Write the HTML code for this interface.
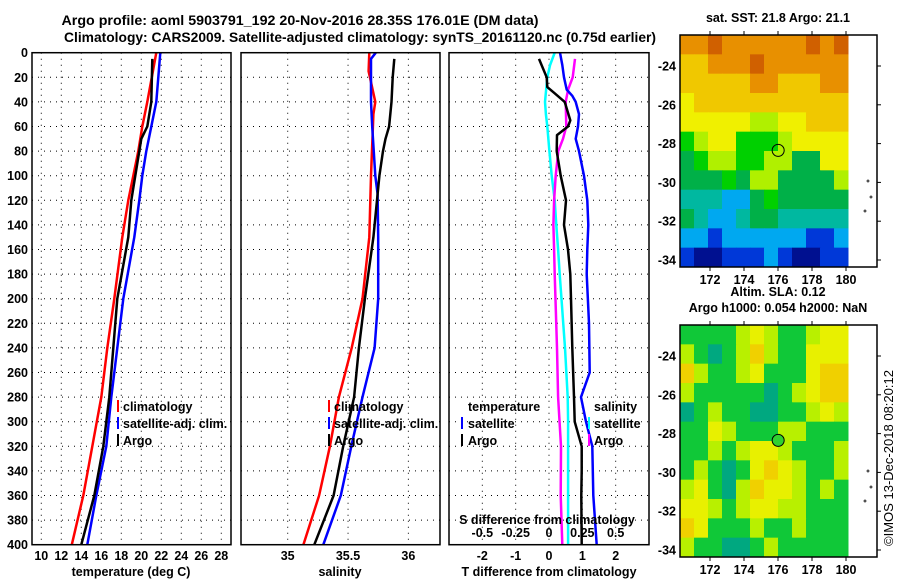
<!DOCTYPE html>
<html><head><meta charset="utf-8"><style>
html,body{margin:0;padding:0;background:#fff}
svg{display:block;font-family:"Liberation Sans",sans-serif;font-weight:bold}
</style></head><body>
<svg id="fig" width="900" height="580" viewBox="0 0 900 580" xmlns="http://www.w3.org/2000/svg">
<text x="300" y="25" font-size="14" text-anchor="middle" textLength="477" lengthAdjust="spacingAndGlyphs">Argo profile: aoml 5903791_192 20-Nov-2016 28.35S 176.01E (DM data)</text>
<text x="360" y="42" font-size="14" text-anchor="middle" textLength="592" lengthAdjust="spacingAndGlyphs">Climatology: CARS2009. Satellite-adjusted climatology: synTS_20161120.nc (0.75d earlier)</text>
<g id="panels"></g>
<g id="maps"></g>
<text transform="translate(893,458) rotate(-90)" font-size="12.5" font-weight="normal" text-anchor="middle" textLength="176" lengthAdjust="spacingAndGlyphs">©IMOS 13-Dec-2018 08:20:12</text>
</svg>
<script>
// ---- profile data ----
const tempDepths = [0,40,60,80,100,120,150,200,240,280,320,360,400];
const tempClim   = [21.5,20.6,20.1,19.7,19.2,18.7,18.1,17.3,16.6,16.0,15.1,14.2,13.05];
const tempSat    = [21.9,21.5,21.0,20.5,20.1,19.8,19.3,18.2,17.6,17.0,16.5,15.5,14.6];
const argoTDepths= [5,40,60,70,80,100,120,150,200,240,280,320,360,400];
const tempArgo   = [21.1,21.0,20.6,20.0,19.8,19.4,19.0,18.7,17.6,17.2,16.8,16.2,15.3,14.0];

const salDepths  = [0,15,40,50,100,150,200,240,280,320,360,400];
const salClim    = [35.676,35.67,35.726,35.71,35.69,35.676,35.62,35.53,35.424,35.35,35.26,35.13];
const salSatDepths=[0,5,40,60,100,115,150,200,240,280,320,360,400];
const salSat     = [35.73,35.69,35.69,35.70,35.726,35.745,35.75,35.75,35.72,35.62,35.527,35.44,35.295];
const salArgoDepths=[5,20,40,60,70,80,100,120,150,200,240,280,320,360,400];
const salArgo    = [35.883,35.87,35.86,35.84,35.81,35.79,35.76,35.74,35.71,35.64,35.59,35.55,35.46,35.38,35.22];

const dTArgoDepths=[5,20,28,33,40,55,60,67,80,100,120,140,160,180,200,240,280,300,320,340,360,400];
const dTArgo     = [-0.30,-0.07,-0.05,0.17,0.47,0.64,0.57,0.24,0.23,0.35,0.51,0.45,0.57,0.64,0.66,0.70,0.75,0.77,0.98,0.98,0.97,0.98];
const dTSatDepths=[0,10,20,30,35,40,50,60,70,80,100,120,140,160,180,220,260,280,300,320,360,400];
const dTSat      = [0.33,0.40,0.45,0.53,0.70,0.80,0.90,0.87,0.80,0.90,1.05,1.15,1.18,1.15,1.13,1.2,1.22,0.96,1.11,1.30,1.33,1.43];
// salinity differences (S units), plotted on S axis (S = T/4)
const dSArgoDepths=[5,20,30,40,60,70,80,100,120,140,160,180,240,280,320,360,400];
const dSArgo     = [0.195,0.178,0.143,0.125,0.13,0.105,0.07,0.05,0.038,0.033,0.038,0.043,0.06,0.068,0.09,0.088,0.10];
const dSSatDepths=[0,10,20,40,50,60,80,100,120,140,160,180,240,280,300,320,400];
const dSSat      = [0.043,0.008,-0.013,-0.03,-0.023,-0.013,0.003,0.02,0.043,0.055,0.068,0.08,0.12,0.14,0.143,0.143,0.143];

const depthTicks=[0,20,40,60,80,100,120,140,160,180,200,220,240,260,280,300,320,340,360,380,400];
const tempTicks=[10,12,14,16,18,20,22,24,26,28];
const salTicks=[35,35.5,36];
const salTickLabels=["35","35.5","36"];
const dTTicks=[-2,-1,0,1,2];
const dSTicks=[-0.5,-0.25,0,0.25,0.5];
const dSTickLabels=["-0.5","-0.25","0","0.25","0.5"];

// ---- map data ----
const sstPalette=["#001090","#0038d8","#00a8f0","#00b8a0","#00b048","#00d000","#b0f000","#f0f000","#f0c800","#e89000","#d06000"];
const sstGrid=[
[9,9,10,9,9,9,9,9,9,10,9,10],
[8,8,9,9,9,10,9,9,9,9,9,9],
[8,8,8,8,8,9,9,8,8,8,9,9],
[7,8,8,8,8,8,8,8,8,8,8,8],
[7,7,7,7,7,6,6,7,7,8,8,8],
[5,6,7,7,5,5,5,6,7,7,7,7],
[4,5,6,6,5,5,6,6,4,4,7,7],
[4,4,4,5,4,6,6,4,4,4,4,6],
[3,3,3,2,2,4,5,4,4,4,4,4],
[4,3,2,2,3,4,4,3,3,3,3,3],
[2,2,1,2,2,2,2,2,2,1,1,2],
[1,0,0,1,1,1,2,1,0,0,1,1]];
const slaPalette=["#00a880","#10c838","#b8f000","#e8f000","#f0d000"];
const slaGrid=[
[1,1,1,1,2,3,2,1,1,2,3,3],
[2,1,0,1,2,4,2,1,1,3,3,3],
[4,2,1,1,2,3,1,1,1,3,4,4],
[2,1,1,1,1,1,0,1,2,3,4,4],
[0,1,2,1,1,0,0,1,1,2,3,2],
[1,1,3,2,1,1,1,2,2,1,1,1],
[1,1,2,1,2,3,3,2,1,1,1,2],
[1,2,1,0,1,3,4,3,2,1,1,2],
[2,3,1,0,2,4,3,3,2,1,2,1],
[3,3,2,1,2,3,3,2,2,1,1,1],
[4,3,1,1,1,2,1,1,2,1,1,1],
[2,1,1,0,0,1,2,1,1,1,1,1]];
const lonTicks=[172,174,176,178,180];
const latTicks=[-24,-26,-28,-30,-32,-34];
const argoLon=176.01, argoLat=-28.35;

const NS="http://www.w3.org/2000/svg";
function mk(tag,attrs,parent){const e=document.createElementNS(NS,tag);for(const k in attrs)e.setAttribute(k,attrs[k]);parent.appendChild(e);return e;}
const panels=document.getElementById('panels');
const Y0=52.7, Y1=544.7;
const yD=d=>Y0+(d/400)*(Y1-Y0);

function panel(name,x0,x1,vmin,vmax){
  const g=mk('g',{},panels);
  
  
  const xs=v=>x0+(v-vmin)/(vmax-vmin)*(x1-x0);
  return {g,xs,x0,x1};
}
function grid(p,xt){
  depthTicks.slice(1,-1).forEach(d=>{const l=mk('line',{x1:p.x0,x2:p.x1,y1:yD(d),y2:yD(d),stroke:'#000','stroke-width':1,'stroke-dasharray':'1 5'},p.g);
    
    });
  xt.forEach(v=>{const l=mk('line',{x1:p.xs(v),x2:p.xs(v),y1:Y0,y2:Y1,stroke:'#000','stroke-width':1,'stroke-dasharray':'1 5'},p.g);
    
    });
}
function frame(p){const r=mk('rect',{x:p.x0,y:Y0,width:p.x1-p.x0,height:Y1-Y0,fill:'none',stroke:'#000','stroke-width':1.5},p.g);
  
  }
function line(p,depths,vals,color,name,xs){
  const f=xs||p.xs;
  const pts=depths.map((d,i)=>f(vals[i]).toFixed(1)+','+yD(d).toFixed(1)).join(' ');
  const l=mk('polyline',{points:pts,fill:'none',stroke:color,'stroke-width':2.5,'stroke-linejoin':'round'},p.g);
  
  
}
function xlabels(p,ticks,labels,y){ticks.forEach((v,i)=>{const t=mk('text',{x:p.xs(v),y:y,'font-size':12.5,'text-anchor':'middle'},p.g);t.textContent=labels?labels[i]:String(v);
  
  });}
function txt(p,x,y,s,name,anchor){const t=mk('text',{x:x,y:y,'font-size':12.5,'text-anchor':anchor||'start'},p.g);t.textContent=s;
  
  return t;}
function legTick(p,x,y,color){const l=mk('line',{x1:x,x2:x,y1:y-11,y2:y+1,stroke:color,'stroke-width':2},p.g);
  
  }

// Panel 1 temperature
const p1=panel('temperature-panel',32,231,9.07,28.97);
grid(p1,tempTicks);
line(p1,tempDepths,tempClim,'#ff0000','climatology-temp-line');
line(p1,tempDepths,tempSat,'#0000ff','satellite-temp-line');
line(p1,argoTDepths,tempArgo,'#000000','argo-temp-line');
frame(p1);
depthTicks.forEach(d=>{txt(p1,28,yD(d)+4.5,String(d),'y-tick-label','end');});
xlabels(p1,tempTicks,null,560);
txt(p1,131,576,'temperature (deg C)','x-axis-title','middle');
legTick(p1,118,411,'#ff0000');txt(p1,123,411,'climatology','legend-climatology');
legTick(p1,118,428,'#0000ff');txt(p1,123,428,'satellite-adj. clim.','legend-satellite');
legTick(p1,118,445,'#000');txt(p1,123,445,'Argo','legend-argo');

// Panel 2 salinity
const p2=panel('salinity-panel',241,440,34.613,36.262);
grid(p2,salTicks);
line(p2,salDepths,salClim,'#ff0000','climatology-sal-line');
line(p2,salSatDepths,salSat,'#0000ff','satellite-sal-line');
line(p2,salArgoDepths,salArgo,'#000000','argo-sal-line');
frame(p2);
xlabels(p2,salTicks,salTickLabels,560);
txt(p2,340,576,'salinity','x-axis-title','middle');
legTick(p2,329,411,'#ff0000');txt(p2,334,411,'climatology','legend-climatology');
legTick(p2,329,428,'#0000ff');txt(p2,334,428,'satellite-adj. clim.','legend-satellite');
legTick(p2,329,445,'#000');txt(p2,334,445,'Argo','legend-argo');

// Panel 3 differences
const p3=panel('difference-panel',449,649,-3,3);
const xsS=v=>p3.xs(v*4);
grid(p3,dTTicks);
line(p3,dSSatDepths,dSSat,'#00ffff','satellite-sal-diff-line',xsS);
line(p3,dSArgoDepths,dSArgo,'#ff00ff','argo-sal-diff-line',xsS);
line(p3,dTSatDepths,dTSat,'#0000ff','satellite-temp-diff-line');
line(p3,dTArgoDepths,dTArgo,'#000000','argo-temp-diff-line');
frame(p3);
xlabels(p3,dTTicks,null,560);
txt(p3,549,576,'T difference from climatology','x-axis-title','middle');
dSTicks.forEach((v,i)=>{txt(p3,xsS(v),537,dSTickLabels[i],'s-tick-label','middle');});
txt(p3,547,524,'S difference from climatology','s-axis-title','middle');
txt(p3,468,411,'temperature','legend-temperature-header');
txt(p3,594,411,'salinity','legend-salinity-header');
legTick(p3,462,428,'#0000ff');txt(p3,468,428,'satellite','legend-temp-satellite');
legTick(p3,462,445,'#000');txt(p3,468,445,'Argo','legend-temp-argo');
legTick(p3,589,428,'#00ffff');txt(p3,594,428,'satellite','legend-sal-satellite');
legTick(p3,589,445,'#ff00ff');txt(p3,594,445,'Argo','legend-sal-argo');

// ---- maps ----
const maps=document.getElementById('maps');
function drawMap(name,top,grid,pal,dotColor,titles){
  const g=mk('g',{},maps);
  
  
  const L=680,R=877,B=top+232,dataR=848;
  const lx=lon=>778+(lon-176)*17;
  const ly=lat=>top+31+(-24-lat)*19.4;
  const rows=grid.length, cols=grid[0].length;
  const cw=(dataR-L)/cols, ch=(B-top)/rows;
  grid.forEach((row,r)=>row.forEach((c,k)=>{
    const cell=mk('rect',{x:L+k*cw,y:top+r*ch,width:cw+0.5,height:ch+0.5,fill:pal[c]},g);
    
    
  }));
  const fr=mk('rect',{x:L,y:top,width:R-L,height:B-top,fill:'none',stroke:'#000','stroke-width':1.5},g);
  
  
  lonTicks.forEach(lon=>{
    mk('line',{x1:lx(lon),x2:lx(lon),y1:top-4,y2:top,stroke:'#000'},g);
    mk('line',{x1:lx(lon),x2:lx(lon),y1:B,y2:B+4,stroke:'#000'},g);
    const t=mk('text',{x:lx(lon),y:B+17,'font-size':12.5,'text-anchor':'middle'},g);t.textContent=String(lon);
    
    
  });
  latTicks.forEach(lat=>{
    mk('line',{x1:R,x2:R+4,y1:ly(lat),y2:ly(lat),stroke:'#000'},g);
    const t=mk('text',{x:676,y:ly(lat)+4.5,'font-size':12.5,'text-anchor':'end'},g);t.textContent=String(lat);
    
    
  });
  const c=mk('circle',{cx:lx(argoLon),cy:ly(argoLat),r:6,fill:dotColor,stroke:'#000','stroke-width':1},g);
  
  
  [[868,top+146],[871,top+162],[865,top+176]].forEach(p=>{mk('circle',{cx:p[0],cy:p[1],r:1,fill:'none',stroke:'#000','stroke-width':0.7},g);});
  titles.forEach((s,i)=>{const t=mk('text',{x:778,y:top-(titles.length-i)*16+3,'font-size':12.5,'text-anchor':'middle'},g);t.textContent=s;
    
    });
}
drawMap('sst-map',35,sstGrid,sstPalette,'none',['sat. SST: 21.8 Argo: 21.1']);
drawMap('sla-map',325,slaGrid,slaPalette,'#30d030',['Altim. SLA: 0.12','Argo h1000: 0.054 h2000: NaN']);
</script>
</body></html>
